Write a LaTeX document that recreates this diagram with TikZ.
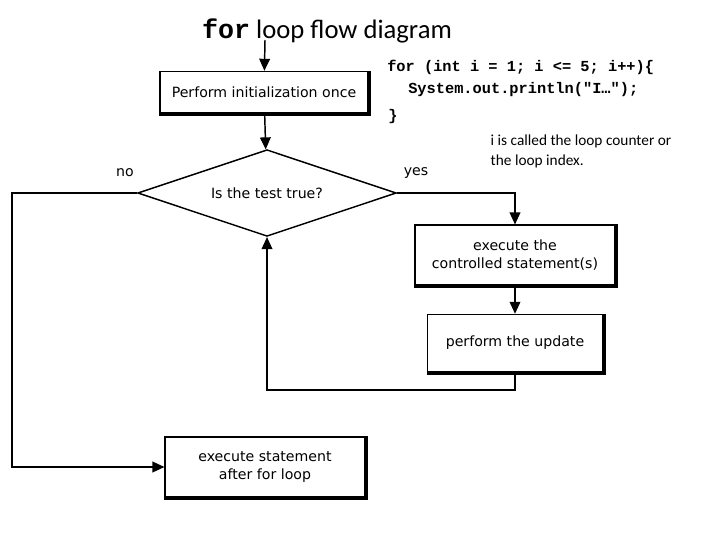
\documentclass[tikz,border=0pt]{standalone}
\usepackage{fontspec}
\setmainfont{Carlito}
\newfontfamily\flowfont{DejaVu Sans}
\newfontfamily\codefont{Liberation Mono}
\usetikzlibrary{arrows.meta,shapes.geometric}

\begin{document}
\begin{tikzpicture}[x=0.75pt,y=-0.75pt]
\tikzstyle{block} = [rectangle, draw, thick, fill=white, font=\flowfont\fontsize{10.6}{13}\selectfont,
  align=center, inner sep=0pt]
\tikzstyle{decision} = [diamond, draw, line width=1.1pt, font=\flowfont\fontsize{10.6}{13}\selectfont,
  minimum width=194pt, minimum height=65pt, aspect=3, inner sep=0pt]
\tikzstyle{line} = [draw, line width=1.1pt, -{Triangle[length=9pt,width=8pt]}]
\tikzstyle{lbl} = [font=\flowfont\fontsize{10.6}{13}\selectfont]
\tikzstyle{code} = [anchor=west, font=\codefont\bfseries\fontsize{11.5}{13}\selectfont, inner sep=0pt]
\useasboundingbox (0,0) rectangle (720,540);
% title and code
\node (title) at (327,31) {\fontsize{20}{22}\selectfont{\codefont\bfseries for} loop flow diagram};
\node[code] (c1) at (387,67) {for (int i = 1; i <= 5; i++)\{};
\node[code] (c2) at (408,90) {System.out.println("I…");};
\node[code] (c3) at (388,117) {\}};
\node[anchor=west, align=left, font=\fontsize{11.5}{15}\selectfont] (note) at (486,151)
  {i is called the loop counter or\\the loop index.};
% flowchart
\coordinate (start) at (265,40);
\node[block, minimum width=156pt, minimum height=31pt] (init) at (264,92) {Perform initialization once};
\node[decision] (test) at (267,193) {Is the test true?};
\node[block, minimum width=150pt, minimum height=45pt] (body) at (515,255) {execute the\\controlled statement(s)};
\node[block, minimum width=131pt, minimum height=43pt] (update) at (515,343) {perform the update};
\node[block, minimum width=150pt, minimum height=45pt] (after) at (265,467) {execute statement\\after for loop};
\node[lbl] (no) at (125,173) {no};
\node[lbl] (yes) at (416,173) {yes};
\coordinate (left) at (12,193);
\coordinate (back) at (515,390);
% shadows
\foreach \n in {init,body,update,after}
  \draw[line width=2pt] ([xshift=1pt]\n.north east) -- ([xshift=1pt,yshift=-1pt]\n.south east) -- ([yshift=-1pt]\n.south west);
\path[line] (start) -- (init);
\path[line] (init) -- (test);
\path[line] (test.east) -| (body.north);
\path[line] (body) -- (update);
\path[line] (update.south) -- (back) -| (test.south);
\path[line] (test.west) -- (left) |- (after.west);
\end{tikzpicture}
\end{document}
